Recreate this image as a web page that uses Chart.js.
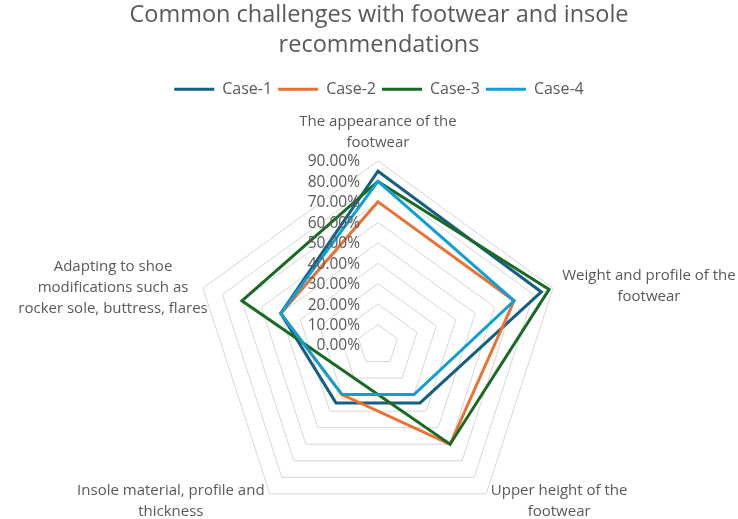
<!DOCTYPE html>
<html>
<head>
<meta charset="utf-8">
<script src="https://cdn.jsdelivr.net/npm/chart.js@4.4.1/dist/chart.umd.min.js"></script>
<style>
  html, body { margin: 0; padding: 0; background: #fff; }
  #wrap { width: 738px; height: 519px; position: relative; }
</style>
</head>
<body>
<div id="wrap"><canvas id="chart"></canvas></div>
<script>
// --- Data ---
const categories = [
    ['The appearance of the', 'footwear'],
    ['Weight and profile of the', 'footwear'],
    ['Upper height of the', 'footwear'],
    ['Insole material, profile and', 'thickness'],
    ['Adapting to shoe', 'modifications such as', 'rocker sole, buttress, flares']
];
const seriesNames = ['Case-1', 'Case-2', 'Case-3', 'Case-4'];
const case1 = [85, 84, 35, 35, 50];
const case2 = [70, 70, 60, 30, 50];
const case3 = [80, 88, 60, 20, 70];
const case4 = [80, 70, 30, 30, 50];
const tickValues = [0, 10, 20, 30, 40, 50, 60, 70, 80, 90];
const tickLabels = ['0.00%', '10.00%', '20.00%', '30.00%', '40.00%', '50.00%', '60.00%', '70.00%', '80.00%', '90.00%'];

const colors = ['#156082', '#E97132', '#196B24', '#0F9ED5'];
const textColor = '#595959';
const fontFamily = '"Open Sans", "Noto Sans", sans-serif';

// where each category label block sits, relative to the outer ring vertex
const labelOffsets = [
    { dx: 0, dy: -29 },
    { dx: 96, dy: -2 },
    { dx: 73, dy: 7 },
    { dx: -99, dy: 7 },
    { dx: -90, dy: 0 }
];

// --- Labels drawn beside the radial scale ---
const radarLabels = {
    id: 'radarLabels',
    afterDraw(chart) {
        const scale = chart.scales.r;
        const ctx = chart.ctx;
        ctx.save();
        ctx.fillStyle = textColor;
        ctx.textBaseline = 'middle';

        // tick labels, right aligned left of the vertical axis
        ctx.font = '15.5px ' + fontFamily;
        ctx.textAlign = 'right';
        tickValues.forEach((v, i) => {
            const d = scale.getDistanceFromCenterForValue(v);
            const p = scale.getPointPosition(0, d);
            ctx.fillText(tickLabels[i], p.x - 18, p.y + 1);
        });

        // category labels
        ctx.font = '15px ' + fontFamily;
        ctx.textAlign = 'center';
        const lineH = 21;
        categories.forEach((lines, i) => {
            const p = scale.getPointPosition(i, scale.drawingArea);
            const off = labelOffsets[i];
            const top = p.y + off.dy - (lines.length - 1) * lineH / 2;
            lines.forEach((line, j) => {
                ctx.fillText(line, p.x + off.dx, top + j * lineH);
            });
        });
        ctx.restore();
    }
};

const allSeries = [case1, case2, case3, case4];

new Chart(document.getElementById('chart'), {
    type: 'radar',
    data: {
        labels: categories,
        datasets: allSeries.map((values, i) => ({
            label: seriesNames[i],
            data: values,
            borderColor: colors[i],
            backgroundColor: colors[i],
            borderWidth: 3,
            fill: false,
            pointRadius: 0,
            pointHoverRadius: 0,
            clip: false,
            order: allSeries.length - i
        }))
    },
    options: {
        responsive: true,
        maintainAspectRatio: false,
        animation: false,
        layout: { padding: { left: 20 } },
        plugins: {
            title: {
                display: true,
                text: ['Common challenges with footwear and insole', 'recommendations'],
                color: textColor,
                font: { family: fontFamily, size: 23.5, weight: 'normal', lineHeight: 1.28 },
                padding: { top: 0, bottom: 15 }
            },
            legend: {
                display: true,
                position: 'top',
                labels: {
                    sort: (a, b) => a.datasetIndex - b.datasetIndex,
                    usePointStyle: true,
                    pointStyle: 'line',
                    pointStyleWidth: 40,
                    color: textColor,
                    padding: 6,
                    font: { family: fontFamily, size: 16 }
                }
            },
            tooltip: { enabled: false }
        },
        scales: {
            r: {
                min: 0,
                max: 90,
                ticks: { stepSize: 10, display: false },
                grid: { color: '#D6D6D6', lineWidth: 1 },
                angleLines: { display: false },
                pointLabels: { display: false },
                afterFit(scale) {
                    scale.xCenter = 378;
                    scale.yCenter = 345;
                    scale.drawingArea = 184;
                }
            }
        }
    },
    plugins: [radarLabels]
});
</script>
</body>
</html>
